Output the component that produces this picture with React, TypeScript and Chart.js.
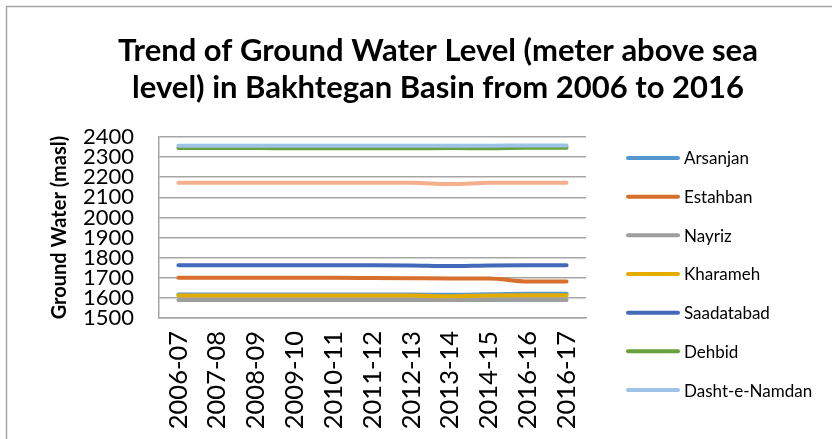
import React, { useEffect, useRef } from "react";
import { Chart, registerables } from "chart.js";

Chart.register(...registerables);

const categories = ["2006-07", "2007-08", "2008-09", "2009-10", "2010-11", "2011-12", "2012-13", "2013-14", "2014-15", "2016-16", "2016-17"];
const arsanjan = [1617, 1617, 1617, 1617, 1617, 1617, 1617, 1615, 1618, 1620, 1620];
const estahban = [1700, 1700, 1700, 1700, 1700, 1699, 1698, 1697, 1697, 1682, 1682];
const nayriz = [1590, 1590, 1590, 1590, 1590, 1590, 1590, 1590, 1590, 1590, 1590];
const kharameh = [1612, 1612, 1612, 1612, 1612, 1612, 1612, 1608, 1612, 1613, 1613];
const saadatabad = [1762, 1762, 1762, 1762, 1762, 1762, 1761, 1758, 1761, 1762, 1762];
const dehbid = [2345, 2345, 2345, 2344, 2344, 2344, 2344, 2345, 2344, 2346, 2346];
const dashtENamdan = [2357, 2357, 2357, 2357, 2357, 2357, 2357, 2357, 2357, 2358, 2358];
const unlabeledSeries = [2172, 2172, 2172, 2172, 2172, 2172, 2172, 2166, 2172, 2173, 2173];

const seriesNames = ["Arsanjan", "Estahban", "Nayriz", "Kharameh", "Saadatabad", "Dehbid", "Dasht-e-Namdan", "Series 8"];
const seriesData = [arsanjan, estahban, nayriz, kharameh, saadatabad, dehbid, dashtENamdan, unlabeledSeries];
const seriesColors = ["#5696D0", "#D6702C", "#9E9E9E", "#E5AC00", "#4369BA", "#66A13E", "#9DC3E6", "#F4AF8C"];
const legendCount = 7;

const yTitle = "Ground Water (masl)";
const chartTitle = ["Trend of Ground Water Level (meter above sea", "level) in Bakhtegan Basin from 2006 to 2016"];

const FONT = "Lato";

export default function App() {
  const ref = useRef<HTMLCanvasElement | null>(null);
  useEffect(() => {
    const frame = {
      id: "frame",
      beforeDraw(chart: any) {
        const c = chart.ctx;
        c.save();
        c.fillStyle = "#fff";
        c.fillRect(0, 0, chart.width, chart.height);
        c.strokeStyle = "#A6A6A6";
        c.lineWidth = 1.5;
        c.strokeRect(6.5, 6.5, chart.width, chart.height);
        c.restore();
      },
    };
    const sideLegend = {
      id: "sideLegend",
      afterDraw(chart: any) {
        const c = chart.ctx;
        const area = chart.chartArea;
        const x0 = area.right + 40;
        const y0 = area.top + 21;
        const step = 38.67;
        c.save();
        c.font = `17px ${FONT}`;
        c.textBaseline = "middle";
        c.textAlign = "left";
        chart.data.datasets.slice(0, legendCount).forEach((ds: any, i: number) => {
          const y = y0 + i * step;
          c.strokeStyle = ds.borderColor;
          c.lineWidth = 4;
          c.lineCap = "round";
          c.beginPath();
          c.moveTo(x0 + 2, y);
          c.lineTo(x0 + 52, y);
          c.stroke();
          c.fillStyle = "#000";
          c.fillText(ds.label, x0 + 58, y + 1);
        });
        c.restore();
      },
    };
    const chart = new Chart(ref.current as HTMLCanvasElement, {
      type: "line",
      data: {
        labels: categories,
        datasets: seriesData.map((d, i) => ({
          label: seriesNames[i],
          data: d,
          borderColor: seriesColors[i],
          backgroundColor: seriesColors[i],
          borderWidth: 4,
          pointRadius: 0,
          borderCapStyle: "round",
          cubicInterpolationMode: "monotone",
          order: 10 - i,
          yAxisID: "y",
        })),
      },
      options: {
        animation: false,
        responsive: false,
        layout: { padding: 0 },
        plugins: {
          tooltip: { enabled: false },
          legend: { display: false },
          title: {
            display: true,
            text: chartTitle,
            color: "#000",
            font: { family: FONT, size: 31, weight: "bold", lineHeight: 1.2 },
            padding: { top: 32, bottom: 30.6 },
          },
        },
        scales: {
          x: {
            type: "category",
            offset: true,
            grid: { display: false, drawTicks: false },
            border: { display: true, color: "#A6A6A6", width: 1.5 },
            ticks: { color: "#000", font: { family: FONT, size: 25.5 }, minRotation: 90, maxRotation: 90, padding: 13, autoSkip: false },
            afterFit: (s: any) => { s.height = 121; },
          },
          y: {
            type: "linear",
            position: "left",
            min: 1500,
            max: 2400,
            grid: { color: "#A6A6A6", lineWidth: 1.5, drawTicks: false },
            border: { display: true, color: "#A6A6A6", width: 1.5 },
            ticks: {
              stepSize: 100,
              autoSkip: false,
              color: "#000",
              font: { family: FONT, size: 22 },
              padding: 25,
              callback: (v: any) => String(v),
            },
            title: { display: true, text: yTitle, color: "#000", font: { family: FONT, size: 20, weight: "bold" }, padding: { top: 48, bottom: 0 } },
            afterFit: (s: any) => { s.width = 159; },
          },
          gap: {
            type: "linear",
            position: "right",
            display: true,
            grid: { display: false, drawTicks: false },
            border: { display: false },
            ticks: { display: false },
            afterFit: (s: any) => { s.width = 290; },
          },
        },
      },
      plugins: [frame, sideLegend],
    } as any);
    return () => chart.destroy();
  }, []);
  return (
    <div style={{ position: "fixed", left: 0, top: 0, width: 832, height: 439, overflow: "hidden", background: "#fff" }}>
      <canvas ref={ref} width={876} height={439} style={{ display: "block", width: 876, height: 439 }} />
    </div>
  );
}
